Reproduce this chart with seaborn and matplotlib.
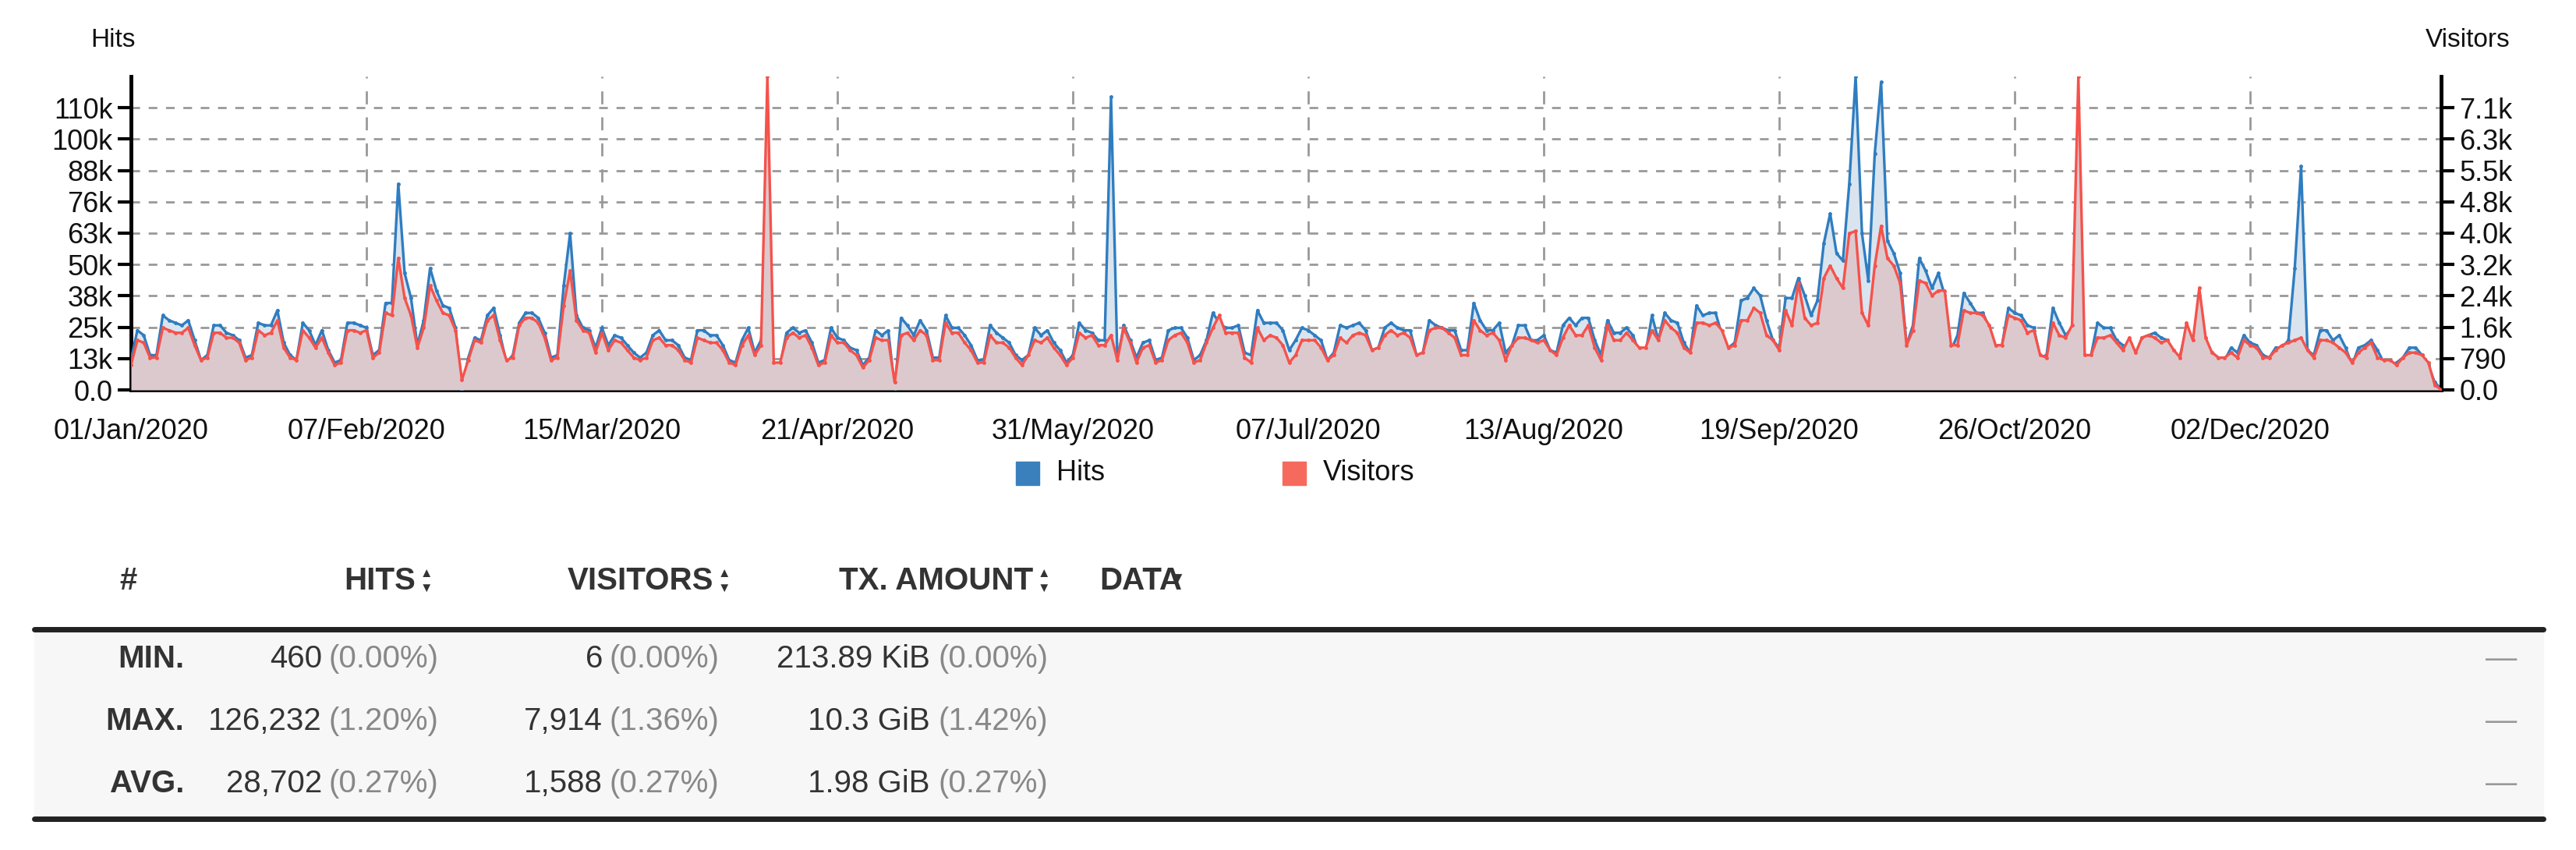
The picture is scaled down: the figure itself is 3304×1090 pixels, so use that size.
import numpy as np
import pandas as pd
import seaborn as sns
import matplotlib
matplotlib.use("Agg")
import matplotlib.pyplot as plt

sns.set_style("white")
plt.rcParams['font.family'] = ['Liberation Sans', 'DejaVu Sans']

HITS_MAX = 126232
VIS_MAX = 7914

# hits per day, in thousands
hits_k = [
    12, 24, 22, 14, 14, 30, 28, 27, 26, 28, 20, 12, 14, 26, 26, 23, 22, 20, 13, 14,
    27, 26, 26, 32, 19, 14, 12, 27, 24, 18, 24, 16, 11, 12, 27, 27, 26,
    25, 14, 16, 35, 35, 83, 47, 37, 18, 28, 49, 40, 34, 33, 25, 0.46, 13, 21, 20, 30,
    33, 22, 11, 14, 27, 31, 31, 29, 23, 13, 14, 42, 63, 30, 25, 24, 17,
    25, 18, 22, 21, 18, 15, 13, 15, 22, 24, 20, 20, 18, 13, 12, 24,
    24, 22, 22, 18, 12, 11, 20, 25, 15, 20, 47, 10, 10, 23, 25, 23, 24, 19, 11, 12,
    25, 21, 20, 17, 16, 10, 13, 24, 22, 24, 0.5, 29, 26, 22, 28, 24, 13, 13, 30, 25,
    25, 22, 18, 12, 12, 26, 23, 21, 19, 14, 12, 14, 25, 22, 24, 19, 16, 11, 14, 27,
    24, 23, 20, 20, 118, 12, 26, 20, 13, 19, 20, 12, 13, 24, 25, 25, 21, 12, 14, 20,
    31, 27, 25, 25, 26, 15, 14, 32, 27, 27, 27, 24, 16, 20, 25,
    24, 22, 20, 12, 15, 26, 25, 26, 27, 24, 16, 17, 25, 27, 25, 24, 24, 14, 15, 28,
    26, 25, 24, 24, 16, 16, 35, 28, 24, 24, 27, 15, 18, 26, 26, 20, 20, 22, 16, 15,
    26, 29, 26, 29, 29, 20, 14, 28, 23, 23, 25, 22, 15, 15, 30, 20, 31, 28, 27, 19,
    15, 34, 30, 31, 31, 22, 17, 19, 36, 37, 41, 38, 28, 20, 17, 37, 37, 45, 38, 30,
    36, 59, 71, 55, 52, 83, 126.232,
    63, 44, 95, 124, 60, 55, 47, 18, 26, 53, 48, 41, 47, 38, 16, 22, 39, 35, 31, 31,
    25, 14, 18, 33, 31, 30, 26, 25, 13, 14, 33, 27, 22, 25, 45, 13, 14, 27, 25, 25,
    20, 18, 13, 14, 21, 22, 23, 21, 20, 13, 14, 25, 20, 28, 18, 15, 13, 12, 17, 15,
    22, 19, 18, 14, 13, 17, 17, 20, 49, 90, 16, 14, 24, 24, 20, 22, 17, 10, 17, 18,
    20, 16, 11, 10, 11, 13, 17, 17, 14, 10, 3, 0.5,
]

# visitors per day, read as height on the hits scale (thousands)
vis_read_k = [
    10, 20, 19, 13, 13, 25, 24, 23, 23, 25, 18, 12, 13, 23, 23, 21, 21, 19, 12, 13,
    24, 22, 23, 28, 17, 13, 12, 24, 21, 17, 21, 15, 10, 11, 24, 24, 23,
    24, 13, 15, 31, 30, 53, 37, 30, 17, 25, 42, 36, 31, 30, 24, 4, 12, 20, 19, 28,
    30, 20, 12, 13, 26, 29, 29, 27, 21, 12, 13, 34, 48, 28, 24, 23, 15,
    23, 16, 20, 19, 16, 13, 12, 13, 20, 21, 18, 18, 16, 12, 11, 21,
    20, 19, 19, 16, 11, 10, 18, 22, 14, 18, 126.232, 11, 11, 21, 23, 21, 22, 17, 10, 11,
    22, 19, 19, 16, 14, 9, 12, 21, 20, 20, 3, 22, 23, 20, 24, 22, 12, 12, 27, 23,
    23, 19, 16, 11, 11, 22, 19, 19, 17, 13, 10, 14, 20, 19, 21, 17, 14, 10, 13, 23,
    21, 22, 18, 18, 22, 12, 25, 19, 11, 17, 18, 11, 12, 20, 22, 23, 19, 11, 12, 19,
    25, 30, 23, 23, 23, 13, 11, 25, 20, 22, 21, 18, 11, 14, 20,
    20, 20, 17, 12, 14, 21, 19, 22, 23, 22, 16, 17, 22, 24, 22, 23, 21, 14, 15, 24,
    25, 25, 23, 21, 14, 14, 28, 24, 22, 23, 20, 12, 18, 21, 21, 20, 19, 20, 16, 14,
    21, 26, 22, 22, 26, 17, 12, 26, 20, 20, 23, 20, 17, 17, 24, 20, 28, 25, 23, 17,
    15, 27, 27, 26, 27, 24, 17, 18, 28, 28, 33, 31, 22, 20, 16, 32, 26, 43, 29, 26,
    27, 45, 50, 45, 41, 63, 64,
    31, 26, 50, 66, 53, 50, 43, 18, 24, 44, 43, 38, 40, 40, 18, 18, 32, 31, 31, 30,
    26, 18, 18, 30, 29, 28, 23, 24, 14, 13, 27, 22, 21, 26, 126.232, 14, 14, 21, 21, 22,
    19, 16, 21, 15, 21, 22, 21, 19, 20, 16, 13, 27, 20, 41, 21, 15, 13, 13, 15, 13,
    20, 18, 17, 13, 13, 16, 18, 19, 20, 21, 16, 13, 20, 20, 19, 17, 15, 11, 15, 17,
    19, 13, 12, 12, 10, 13, 15, 15, 14, 11, 2, 0.096,
]

tick_labels = ["01/Jan/2020", "07/Feb/2020", "15/Mar/2020", "21/Apr/2020", "31/May/2020",
               "07/Jul/2020", "13/Aug/2020", "19/Sep/2020", "26/Oct/2020", "02/Dec/2020"]
hits_ticks = ["0.0", "13k", "25k", "38k", "50k", "63k", "76k", "88k", "100k", "110k"]
vis_ticks = ["0.0", "790", "1.6k", "2.4k", "3.2k", "4.0k", "4.8k", "5.5k", "6.3k", "7.1k"]

n = min(len(hits_k), len(vis_read_k))
df = pd.DataFrame({
    "day": np.arange(n),
    "hits": np.array(hits_k[:n]) * 1000,
    # convert read heights into visitor counts
    "visitors": np.array(vis_read_k[:n]) * 1000 * VIS_MAX / HITS_MAX,
})

W, H = 3304, 1090
fig = plt.figure(figsize=(W / 100, H / 100), dpi=100)
ax = fig.add_axes([168 / W, 1 - 500 / H, (3131 - 168) / W, 402 / H])
ax2 = ax.twinx()

BLUE = "#2f7dc0"
RED = "#f5524b"

ax.fill_between(df["day"], df["hits"], color="#d9e4ef", lw=0, zorder=1)
ax2.fill_between(df["day"], df["visitors"], color="#dcc9ce", lw=0, zorder=1)
sns.lineplot(data=df, x="day", y="hits", ax=ax, color=BLUE, lw=2.4, marker="o",
             markersize=3.5, markeredgewidth=0, zorder=3)
sns.lineplot(data=df, x="day", y="visitors", ax=ax2, color=RED, lw=2.4, marker="o",
             markersize=3.5, markeredgewidth=0, zorder=3)

ax.set_ylim(0, HITS_MAX)
ax2.set_ylim(0, VIS_MAX)
ax.set_xlim(0, n - 1)
ax.set_yticks([i * HITS_MAX / 10 for i in range(10)], hits_ticks)
ax2.set_yticks([i * VIS_MAX / 10 for i in range(10)], vis_ticks)
ax.set_xticks([i * 37 for i in range(10)], tick_labels)
for a in (ax, ax2):
    a.set_xlabel("")
    a.set_ylabel("")
    a.tick_params(axis="both", labelsize=26, length=12, width=3, color="black",
                  direction="out", pad=5, labelcolor="#111")
    for s in a.spines.values():
        s.set_visible(False)
ax.spines["left"].set_visible(True)
ax.spines["bottom"].set_visible(True)
ax2.spines["right"].set_visible(True)
for s in (ax.spines["left"], ax.spines["bottom"], ax2.spines["right"]):
    s.set_linewidth(3.5)
    s.set_color("black")
ax.tick_params(axis="x", length=22, pad=4)
ax.grid(True, axis="y", color="#999999", ls=(0, (4, 4)), lw=2)
ax.grid(True, axis="x", color="#999999", ls=(0, (6, 6)), lw=2)
ax.set_axisbelow(True)
ax.set_zorder(ax2.get_zorder() - 1)
ax.patch.set_visible(False)

fig.text(116 / W, 1 - 51 / H, "Hits", fontsize=24, va="center", color="#111")
fig.text(3220 / W, 1 - 51 / H, "Visitors", fontsize=24, va="center", ha="right", color="#111")

# legend
fig.patches.append(plt.Rectangle((1303 / W, 1 - 622 / H), 30 / W, 30 / H,
                                 transform=fig.transFigure, color="#3a80bd"))
fig.text(1355 / W, 1 - 607 / H, "Hits", fontsize=26, va="center", color="#111")
fig.patches.append(plt.Rectangle((1645 / W, 1 - 622 / H), 30 / W, 30 / H,
                                 transform=fig.transFigure, color="#f66a5e"))
fig.text(1697 / W, 1 - 607 / H, "Visitors", fontsize=26, va="center", color="#111")

# summary table
fig.patches.append(plt.Rectangle((44 / W, 1 - 1050 / H), (3262 - 44) / W, (1050 - 808) / H,
                                 transform=fig.transFigure, color="#f7f7f7", zorder=0))
for yy in (807, 1050):
    fig.add_artist(plt.Line2D([44 / W, 3262 / W], [1 - yy / H] * 2, color="#222", lw=5))

def ftxt(x, y, s, **kw):
    kw.setdefault("fontsize", 29)
    kw.setdefault("va", "center")
    fig.text(x / W, 1 - y / H, s, **kw)

hy = 745
ftxt(164, hy, "#", ha="center", weight="bold", color="#333")
for right, label in ((533, "HITS"), (915, "VISITORS"), (1325, "TX. AMOUNT")):
    ftxt(right, hy, label, ha="right", weight="bold", color="#333")
    ftxt(right + 6, hy - 9, "▲", fontsize=12, color="#333")
    ftxt(right + 6, hy + 9, "▼", fontsize=12, color="#333")
ftxt(1410, hy, "DATA", weight="bold", color="#333")
ftxt(1500, hy - 2, "▼", fontsize=14, color="#333")

row_names = ["MIN.", "MAX.", "AVG."]
hits_stats = [("460", "(0.00%)"), ("126,232", "(1.20%)"), ("28,702", "(0.27%)")]
vis_stats = [("6", "(0.00%)"), ("7,914", "(1.36%)"), ("1,588", "(0.27%)")]
tx_stats = [("213.89 KiB", "(0.00%)"), ("10.3 GiB", "(1.42%)"), ("1.98 GiB", "(0.27%)")]
for i, ry in enumerate((845, 925, 1005)):
    ftxt(236, ry, row_names[i], ha="right", weight="bold", color="#333")
    for (num, pct), right, left in ((hits_stats[i], 413, 421), (vis_stats[i], 773, 782),
                                    (tx_stats[i], 1193, 1203)):
        ftxt(right, ry, num, ha="right", color="#333")
        ftxt(left, ry, pct, color="#888")
    ftxt(3228, ry, "—", ha="right", color="#999")

fig.savefig("out.png", dpi=100)
